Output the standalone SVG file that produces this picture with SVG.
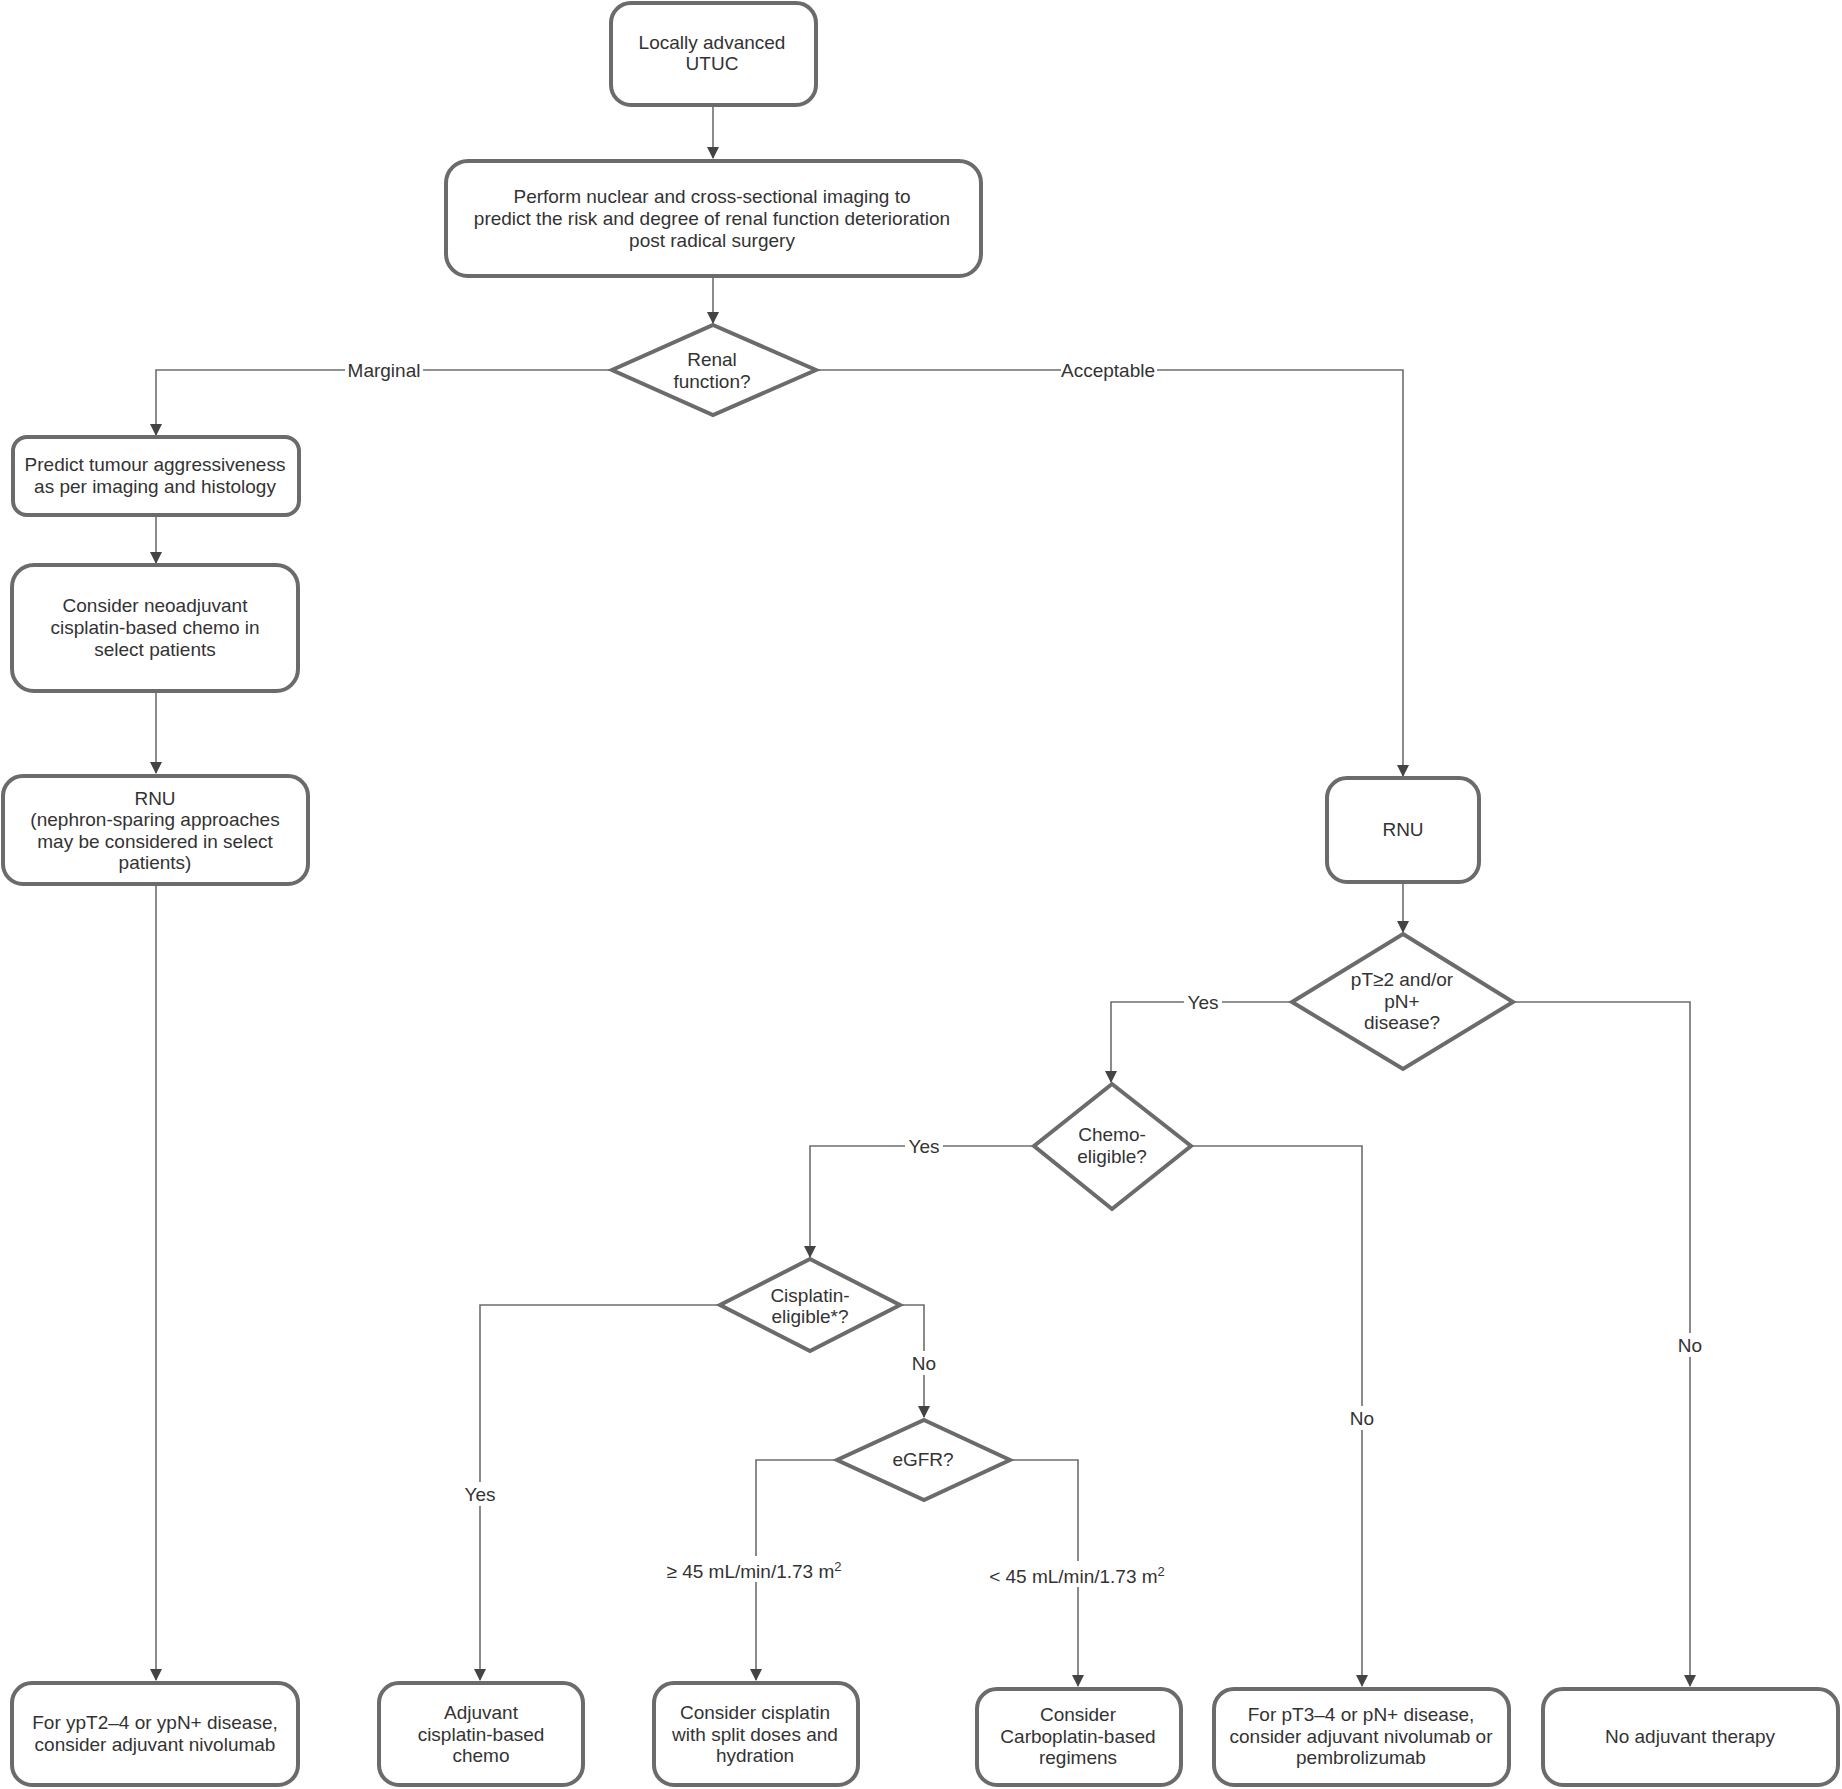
<svg xmlns="http://www.w3.org/2000/svg" width="1842" height="1789" viewBox="0 0 1842 1789">
<style>
.n{fill:#fff;stroke:#6b6b6b;stroke-width:4}
.t{font-family:"Liberation Sans",Arial,sans-serif;font-size:19px;fill:#333;text-anchor:middle}
.c{fill:none;stroke:#6e6e6e;stroke-width:1.6}
.lb{fill:#fff}
</style>
<defs>
<marker id="ah" markerWidth="12" markerHeight="14" refX="11" refY="6" orient="auto" markerUnits="userSpaceOnUse" viewBox="0 0 12 12">
<path d="M0,0 L12,6 L0,12 Z" fill="#444"/>
</marker>
</defs>
<rect width="1842" height="1789" fill="#fff"/>
<g id="connectors">
<path class="c" d="M713,105 V158" marker-end="url(#ah)"/>
<path class="c" d="M713,276 V323" marker-end="url(#ah)"/>
<path class="c" d="M612,370 H156 V435" marker-end="url(#ah)"/>
<path class="c" d="M816,370 H1403 V776" marker-end="url(#ah)"/>
<path class="c" d="M156,515 V563" marker-end="url(#ah)"/>
<path class="c" d="M156,691 V773" marker-end="url(#ah)"/>
<path class="c" d="M156,884 V1680" marker-end="url(#ah)"/>
<path class="c" d="M1403,882 V932" marker-end="url(#ah)"/>
<path class="c" d="M1292,1002 H1111 V1082" marker-end="url(#ah)"/>
<path class="c" d="M1513,1002 H1690 V1686" marker-end="url(#ah)"/>
<path class="c" d="M1034,1146 H810 V1257" marker-end="url(#ah)"/>
<path class="c" d="M1191,1146 H1362 V1686" marker-end="url(#ah)"/>
<path class="c" d="M720,1305 H480 V1680" marker-end="url(#ah)"/>
<path class="c" d="M900,1305 H924 V1417" marker-end="url(#ah)"/>
<path class="c" d="M837,1460 H756 V1680" marker-end="url(#ah)"/>
<path class="c" d="M1010,1460 H1078 V1686" marker-end="url(#ah)"/>
<g id="labels">
<rect class="lb" x="345" y="358" width="78" height="24"/><text class="t" x="384" y="377">Marginal</text>
<rect class="lb" x="1061" y="358" width="96" height="24"/><text class="t" x="1108" y="377">Acceptable</text>
<rect class="lb" x="1184" y="990" width="38" height="24"/><text class="t" x="1203" y="1009">Yes</text>
<rect class="lb" x="1676" y="1333" width="29" height="24"/><text class="t" x="1690" y="1352">No</text>
<rect class="lb" x="905" y="1134" width="38" height="24"/><text class="t" x="924" y="1153">Yes</text>
<rect class="lb" x="1348" y="1406" width="29" height="24"/><text class="t" x="1362" y="1425">No</text>
<rect class="lb" x="461" y="1482" width="38" height="24"/><text class="t" x="480" y="1501">Yes</text>
<rect class="lb" x="910" y="1351" width="29" height="24"/><text class="t" x="924" y="1370">No</text>
<rect class="lb" x="662" y="1556" width="186" height="26"/><text class="t" x="754" y="1578">≥ 45 mL/min/1.73 m<tspan dy="-7" font-size="13">2</tspan></text>
<rect class="lb" x="984" y="1561" width="186" height="26"/><text class="t" x="1077" y="1583">&lt; 45 mL/min/1.73 m<tspan dy="-7" font-size="13">2</tspan></text>
</g>
</g>
<g id="n1"><rect class="n" x="611" y="3" width="205" height="102" rx="20"/>
<text class="t" x="712" y="49">Locally advanced</text><text class="t" x="712" y="70">UTUC</text></g>
<g id="n2"><rect class="n" x="446" y="161" width="535" height="115" rx="22"/>
<text class="t" x="712" y="203">Perform nuclear and cross-sectional imaging to</text>
<text class="t" x="712" y="225">predict the risk and degree of renal function deterioration</text>
<text class="t" x="712" y="247">post radical surgery</text></g>
<g id="n3"><polygon class="n" points="713,325 816,370 713,415 612,370"/>
<text class="t" x="712" y="366">Renal</text><text class="t" x="712" y="388">function?</text></g>
<g id="n4"><rect class="n" x="13" y="437" width="286" height="78" rx="14"/>
<text class="t" x="155" y="471">Predict tumour aggressiveness</text>
<text class="t" x="155" y="493">as per imaging and histology</text></g>
<g id="n5"><rect class="n" x="12" y="565" width="286" height="126" rx="22"/>
<text class="t" x="155" y="612">Consider neoadjuvant</text>
<text class="t" x="155" y="634">cisplatin-based chemo in</text>
<text class="t" x="155" y="656">select patients</text></g>
<g id="n6"><rect class="n" x="3" y="776" width="305" height="108" rx="20"/>
<text class="t" x="155" y="805">RNU</text>
<text class="t" x="155" y="826">(nephron-sparing approaches</text>
<text class="t" x="155" y="848">may be considered in select</text>
<text class="t" x="155" y="869">patients)</text></g>
<g id="n7"><rect class="n" x="1327" y="778" width="152" height="104" rx="20"/>
<text class="t" x="1403" y="836">RNU</text></g>
<g id="n8"><polygon class="n" points="1403,934 1513,1002 1403,1069 1292,1002"/>
<text class="t" x="1402" y="986">pT≥2 and/or</text><text class="t" x="1402" y="1008">pN+</text><text class="t" x="1402" y="1029">disease?</text></g>
<g id="n9"><polygon class="n" points="1112,1084 1191,1146 1112,1209 1034,1146"/>
<text class="t" x="1112" y="1141">Chemo-</text><text class="t" x="1112" y="1163">eligible?</text></g>
<g id="n10"><polygon class="n" points="810,1259 900,1305 810,1351 720,1305"/>
<text class="t" x="810" y="1302">Cisplatin-</text><text class="t" x="810" y="1323">eligible*?</text></g>
<g id="n11"><polygon class="n" points="924,1420 1010,1460 924,1500 837,1460"/>
<text class="t" x="923" y="1466">eGFR?</text></g>
<g id="n12"><rect class="n" x="12" y="1683" width="286" height="102" rx="20"/>
<text class="t" x="155" y="1729">For ypT2–4 or ypN+ disease,</text>
<text class="t" x="155" y="1751">consider adjuvant nivolumab</text></g>
<g id="n13"><rect class="n" x="379" y="1683" width="204" height="102" rx="20"/>
<text class="t" x="481" y="1719">Adjuvant</text>
<text class="t" x="481" y="1741">cisplatin-based</text>
<text class="t" x="481" y="1762">chemo</text></g>
<g id="n14"><rect class="n" x="654" y="1683" width="204" height="102" rx="20"/>
<text class="t" x="755" y="1719">Consider cisplatin</text>
<text class="t" x="755" y="1741">with split doses and</text>
<text class="t" x="755" y="1762">hydration</text></g>
<g id="n15"><rect class="n" x="977" y="1689" width="204" height="96" rx="20"/>
<text class="t" x="1078" y="1721">Consider</text>
<text class="t" x="1078" y="1743">Carboplatin-based</text>
<text class="t" x="1078" y="1764">regimens</text></g>
<g id="n16"><rect class="n" x="1214" y="1689" width="295" height="96" rx="20"/>
<text class="t" x="1361" y="1721">For pT3–4 or pN+ disease,</text>
<text class="t" x="1361" y="1743">consider adjuvant nivolumab or</text>
<text class="t" x="1361" y="1764">pembrolizumab</text></g>
<g id="n17"><rect class="n" x="1543" y="1689" width="295" height="96" rx="20"/>
<text class="t" x="1690" y="1743">No adjuvant therapy</text></g>
</svg>
